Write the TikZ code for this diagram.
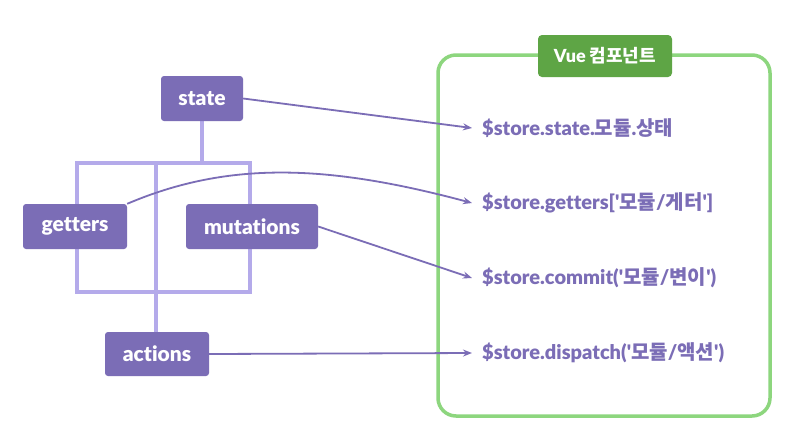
\documentclass[tikz,border=0pt]{standalone}
\usepackage{fontspec}
\setmainfont{Lato}[BoldFont={Lato Black},Ligatures=NoCommon]
\newfontfamily\kr{Noto Sans CJK KR}
\newcommand{\ko}[1]{{\kr\bfseries #1}}
\newcommand{\q}{\textquotesingle}
\usetikzlibrary{arrows.meta}
\definecolor{nodepurple}{HTML}{7B6DB6}
\definecolor{framepurple}{HTML}{B4AAEA}
\definecolor{boxgreen}{HTML}{8DD67E}
\definecolor{labgreen}{HTML}{5EA545}
\begin{document}
\begin{tikzpicture}[x=1pt,y=-1pt,
  vnode/.style={fill=nodepurple,rounded corners=3pt,text=white,font=\bfseries\fontsize{21}{24}\selectfont,inner sep=0pt},
  frame/.style={draw=framepurple,line width=3.5pt},
  conn/.style={draw=nodepurple,line width=1.8pt,-{Stealth[length=9pt,width=7pt]}},
  api/.style={text=nodepurple,font=\bfseries\fontsize{20}{23}\selectfont,anchor=west,inner sep=0pt}]
\useasboundingbox (0,0) rectangle (811,440);
\fill[white] (0,0) rectangle (811,440);
% frame lines
\draw[frame] (77,163) rectangle (250,292);
\draw[frame] (156,163) -- (156,334);
\draw[frame] (202,118) -- (202,163);
% nodes
\node[vnode,minimum width=82pt,minimum height=45pt] (state) at (202,98.5) {state};
\node[vnode,minimum width=104pt,minimum height=45pt] (getters) at (75,226.5) {getters};
\node[vnode,minimum width=132pt,minimum height=45pt] (mutations) at (252,226.5) {mutations};
\node[vnode,minimum width=104pt,minimum height=44pt] (actions) at (157,354) {actions};
% green box
\draw[draw=boxgreen,line width=3.5pt,rounded corners=18pt] (438,55) rectangle (770,416);
\node[fill=labgreen,rounded corners=4pt,minimum width=134pt,minimum height=42pt,inner sep=0pt,text=white,font=\bfseries\fontsize{18}{21}\selectfont] (vue) at (605,56) {Vue \ko{컴포넌트}};
% api texts
\node[api] (t1) at (482,128) {\$store.state.\ko{모듈}.\ko{상태}};
\node[api] (t2) at (482,203) {\$store.getters[\q\ko{모듈}/\ko{게터}\q]};
\node[api] (t3) at (482,278) {\$store.commit(\q\ko{모듈}/\ko{변이}\q)};
\node[api] (t4) at (482,353) {\$store.dispatch(\q\ko{모듈}/\ko{액션}\q)};
% connectors
\draw[conn] (state.east) -- ([xshift=-10pt]t1.west);
\draw[conn] (getters.north east) .. controls (230,160) and (330,165) .. ([xshift=-10pt]t2.west);
\draw[conn] (mutations.east) -- ([xshift=-10pt]t3.west);
\draw[conn] (actions.east) -- ([xshift=-10pt]t4.west);
\end{tikzpicture}
\end{document}
